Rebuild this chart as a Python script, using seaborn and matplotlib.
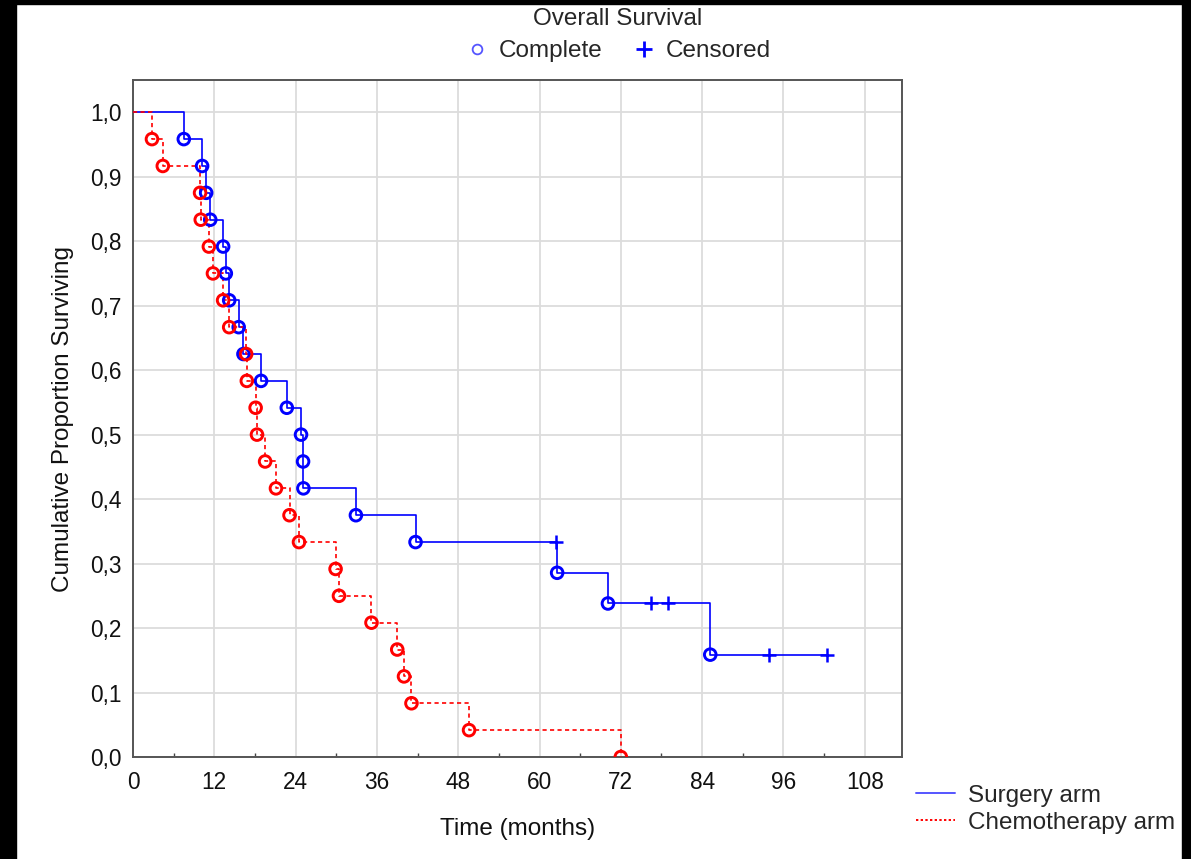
import matplotlib
matplotlib.use("Agg")
import matplotlib.pyplot as plt
from matplotlib.lines import Line2D
from matplotlib.patches import Rectangle
from matplotlib.ticker import MultipleLocator, FuncFormatter
import seaborn as sns
import pandas as pd

# ---------------- data ----------------
surgery_times = [7.5, 10.2, 10.8, 11.4, 13.3, 13.7, 14.2, 15.6, 16.3, 18.9,
                 22.7, 24.8, 25.1, 25.15, 32.9, 41.7, 62.5, 62.6, 70.1, 76.4,
                 78.9, 85.2, 93.8, 102.4]
surgery_event = [1, 1, 1, 1, 1, 1, 1, 1, 1, 1,
                 1, 1, 1, 1, 1, 1, 0, 1, 1, 0,
                 0, 1, 0, 0]

chemo_times = [2.8, 4.4, 9.9, 10.0, 11.2, 11.8, 13.3, 14.2, 16.7, 16.8,
               18.1, 18.3, 19.5, 21.1, 23.1, 24.5, 29.9, 30.4, 35.2, 39.0,
               40.0, 41.1, 49.6, 72.0]
chemo_event = [1] * 24

arm_labels = ["Surgery arm", "Chemotherapy arm"]
x_ticks = [0, 12, 24, 36, 48, 60, 72, 84, 96, 108]
y_ticks = [0.0, 0.1, 0.2, 0.3, 0.4, 0.5, 0.6, 0.7, 0.8, 0.9, 1.0]


def kaplan_meier(times, events):
    at_risk = len(times)
    s = 1.0
    rows = [(0.0, 1.0, -1)]
    for t, e in sorted(zip(times, events)):
        if e:
            s *= (at_risk - 1) / at_risk
        at_risk -= 1
        rows.append((t, s, e))
    return pd.DataFrame(rows, columns=["time", "surv", "event"])


surg = kaplan_meier(surgery_times, surgery_event)
chem = kaplan_meier(chemo_times, chemo_event)

BLUE = "#0000ff"
RED = "#ff0000"
TXT = "#111111"

sns.set_theme(style="white")
plt.rcParams["font.family"] = ["Liberation Sans", "DejaVu Sans"]

fig = plt.figure(figsize=(11.91, 8.59), dpi=100)
fig.patch.set_facecolor("white")
ax = fig.add_axes([133 / 1191, 1 - 757 / 859, (902 - 133) / 1191, (757 - 80) / 859])

# step lines
sns.lineplot(data=surg, x="time", y="surv", ax=ax, estimator=None, sort=False,
             drawstyle="steps-post", color=BLUE, linewidth=1.2, zorder=3)
sns.lineplot(data=chem, x="time", y="surv", ax=ax, estimator=None, sort=False,
             drawstyle="steps-post", color=RED, linewidth=1.2, zorder=3,
             linestyle=(0, (2.5, 2)))

# event markers (open circles) and censored markers (+)
for df, col in [(surg, BLUE), (chem, RED)]:
    ev = df[df["event"] == 1]
    ce = df[df["event"] == 0]
    sns.scatterplot(data=ev, x="time", y="surv", ax=ax, marker="o", s=70,
                    facecolors="none", edgecolor=col, linewidth=2.1, zorder=4)
    if len(ce):
        sns.scatterplot(data=ce, x="time", y="surv", ax=ax, marker="+", s=115,
                        color=col, linewidth=1.8, zorder=4)

ax.set_xlim(0, 113.5)
ax.set_ylim(0, 1.05)
ax.set_xticks(x_ticks)
ax.set_yticks(y_ticks)
ax.xaxis.set_minor_locator(MultipleLocator(6))
ax.yaxis.set_major_formatter(FuncFormatter(lambda v, p: f"{v:.1f}".replace(".", ",")))
ax.grid(True, which="major", color="#dcdcdc", linewidth=1.3)
ax.set_axisbelow(True)
for sp in ax.spines.values():
    sp.set_color("#555555")
    sp.set_linewidth(1.4)
ax.tick_params(axis="both", which="major", direction="in", length=4, width=1.2,
               color="#444444", labelsize=16.3, labelcolor=TXT)
ax.tick_params(axis="x", which="major", pad=10)
ax.tick_params(axis="y", which="major", pad=8)
ax.tick_params(axis="x", which="minor", direction="in", length=3, width=1.0,
               color="#444444", bottom=True)
ax.set_xlabel("Time (months)", fontsize=17.5, color=TXT, labelpad=17)
ax.set_ylabel("Cumulative Proportion Surviving", fontsize=17.5, color=TXT,
              labelpad=12)

# top legend
top_handles = [
    Line2D([], [], linestyle="none", marker="o", markersize=7, markerfacecolor="none",
           markeredgecolor="#5555ff", markeredgewidth=1.3),
    Line2D([], [], linestyle="none", marker="+", markersize=11, color=BLUE,
           markeredgewidth=2.0),
]
fig.legend(top_handles, ["Complete", "Censored"], loc="center",
           bbox_to_anchor=(618 / 1191, 1 - 35 / 859), ncol=2, frameon=False,
           fontsize=17.5, title="Overall Survival", title_fontsize=17.5,
           handletextpad=0.4, columnspacing=1.2, handlelength=1.0,
           labelspacing=0.45, borderaxespad=0, borderpad=0.1)

# bottom-right legend
arm_handles = [
    Line2D([], [], color="#5555ff", linewidth=1.4),
    Line2D([], [], color=RED, linewidth=1.4, linestyle=(0, (1.2, 1.2))),
]
fig.legend(arm_handles, arm_labels, loc="upper left",
           bbox_to_anchor=(906 / 1191, 1 - 775 / 859), frameon=False, fontsize=17.5,
           handlelength=1.6, handletextpad=0.55, labelspacing=0.2, borderaxespad=0)

# black screenshot borders
fig.patches.append(Rectangle((0, 0), 16 / 1191, 1, transform=fig.transFigure,
                             color="black", zorder=10))
fig.patches.append(Rectangle((1182 / 1191, 0), 9 / 1191, 1, transform=fig.transFigure,
                             color="black", zorder=10))
fig.patches.append(Rectangle((0, 1 - 4 / 859), 1, 4 / 859, transform=fig.transFigure,
                             color="black", zorder=10))

fig.savefig("out.png", dpi=100, facecolor="white")
